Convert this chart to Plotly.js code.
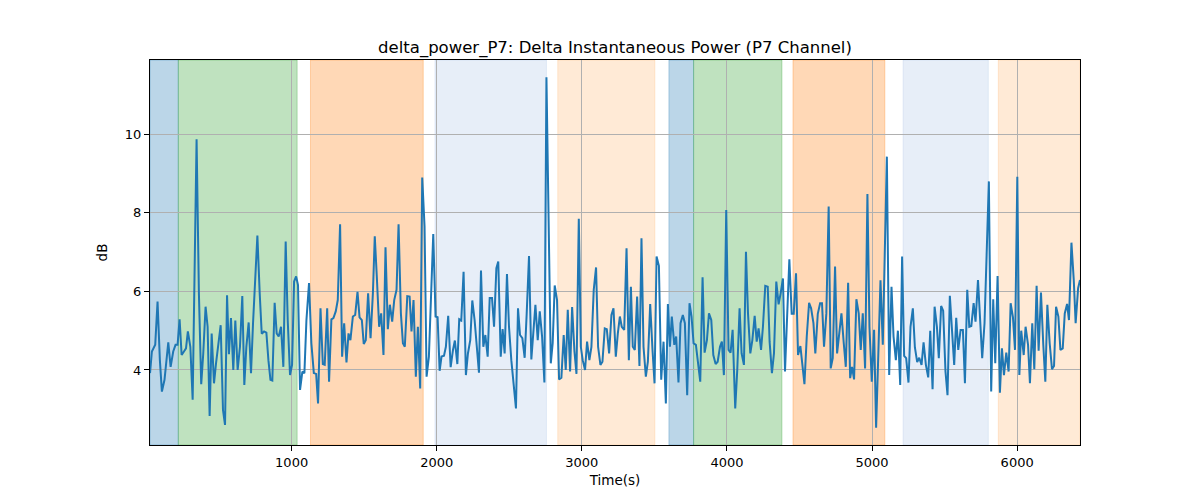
<!DOCTYPE html>
<html>
<head>
<meta charset="utf-8">
<script src="https://cdn.plot.ly/plotly-3.0.1.min.js"></script>
<style>html,body{margin:0;padding:0;background:#fff;}#chart{width:1200px;height:500px;}</style>
</head>
<body>
<div id="chart"></div>
<script>
const timeSec = [24,37,60,76,92,106,124,150,166,184,200,214,228,242,258,272,285,302,318,331,345,361,377,391,407,421,435,449,465,479,495,511,527,541,555,568,582,598,612,628,644,660,674,688,704,720,734,750,764,780,794,810,
826,840,854,867,883,897,911,927,943,959,973,989,1003,1017,1031,1044,1058,1074,1088,1102,1120,1136,1153,1169,1182,1199,1215,1228,1245,1258,1274,1288,1304,1318,1334,1348,1362,1378,1392,1405,1422,1438,1454,1468,1484,1497,1511,1527,1544,1560,1573,1587,1603,1617,1633,
1647,1663,1677,1693,1707,1723,1737,1753,1767,1780,1797,1813,1826,1840,1856,1870,1886,1900,1916,1930,1946,1960,1976,1992,2006,2020,2033,2050,2063,2079,2096,2112,2125,2142,2155,2169,2185,2201,2215,2231,2245,2261,2277,2291,2305,2321,2335,2351,2365,2381,2395,2411,2424,
2441,2454,2468,2484,2498,2514,2530,2546,2560,2574,2590,2606,2620,2636,2652,2666,2680,2696,2710,2726,2742,2756,2772,2786,2799,2813,2829,2843,2859,2875,2889,2903,2919,2933,2949,2963,2979,2993,3006,3022,3036,3052,3066,3082,3098,3112,3128,3142,3158,3172,3188,3204,3218,3234,
3248,3262,3275,3292,3308,3324,3338,3351,3365,3381,3397,3411,3425,3441,3455,3471,3487,3501,3515,3531,3547,3563,3579,3593,3607,3620,3637,3650,3666,3680,3696,3710,3726,3742,3756,3770,3786,3800,3816,3832,3846,3862,3876,3892,3906,3922,3936,3952,3965,3979,3995,4011,4025,4039,
4057,4071,4087,4101,4117,4131,4145,4161,4175,4191,4205,4218,4235,4248,4264,4281,4294,4310,4324,4340,4356,4370,4386,4400,4416,4430,4446,4460,4476,4490,4506,4520,4534,4550,4566,4580,4596,4609,4626,4642,4655,4669,4685,4701,4715,4729,4745,4759,4775,4789,4805,4819,4835,4849,
4862,4876,4892,4908,4922,4936,4952,4968,4982,4998,5014,5028,5044,5058,5074,5102,5118,5134,5148,5164,5178,5194,5207,5221,5235,5251,5265,5281,5295,5311,5325,5341,5355,5371,5387,5401,5417,5431,5447,5460,5476,5490,5506,5520,5536,5550,5566,5580,5594,5610,5626,5640,5656,
5670,5684,5700,5713,5730,5743,5759,5775,5789,5805,5821,5835,5849,5865,5881,5895,5909,5925,5941,5955,5971,5985,6001,6015,6028,6045,6058,6075,6088,6104,6118,6134,6148,6164,6180,6194,6208,6224,6240,6254,6268,6284,6298,6314,6328,6344,6357,6374,6390,6403,6420,6433];

const deltaPowerDb = [3.92,4.47,4.64,5.74,4.25,3.45,3.75,4.70,4.08,4.47,4.64,4.64,5.29,4.38,4.47,4.55,4.98,4.59,3.24,5.95,9.87,5.95,3.64,4.42,5.61,5.10,2.83,4.93,3.66,4.17,4.64,5.14,2.98,2.60,5.90,4.40,5.32,4.00,5.26,4.00,4.59,5.88,3.62,4.59,5.21,3.92,5.19,6.46,7.42,5.95,4.92,4.98,
4.95,4.25,3.75,3.73,5.71,4.93,4.85,5.10,4.08,7.27,5.27,3.87,4.13,6.25,6.38,6.16,3.49,3.96,3.92,5.27,6.21,4.68,3.92,3.90,3.15,5.57,4.15,4.13,5.57,3.70,5.29,5.32,5.49,5.78,7.71,4.34,5.19,4.19,4.93,4.76,5.36,5.40,5.99,5.34,5.27,4.66,4.76,5.95,4.81,5.95,7.40,6.38,5.10,5.44,4.38,
7.12,5.04,5.66,5.23,5.78,6.04,7.71,5.44,4.68,4.59,5.88,5.87,4.98,5.78,3.83,5.10,3.53,8.90,7.65,3.83,4.34,5.95,7.46,5.36,5.34,3.98,4.34,4.36,4.59,5.38,4.07,4.51,4.75,4.15,5.29,5.26,6.50,3.87,4.42,4.76,5.77,5.27,4.42,3.93,6.53,4.59,4.89,4.34,5.83,5.83,5.10,6.59,6.76,
4.34,5.04,4.42,6.44,5.10,4.25,3.66,3.02,5.57,4.89,4.81,4.31,5.44,6.90,4.27,4.89,5.66,4.76,5.49,4.85,3.68,11.45,6.80,4.17,4.68,6.15,5.78,3.76,3.80,4.89,4.00,5.53,3.96,5.60,4.47,3.90,7.85,4.59,4.25,4.00,4.72,4.25,4.59,6.04,6.61,4.59,4.13,4.21,5.06,5.04,4.42,5.40,5.57,4.34,
4.93,5.36,5.10,5.02,7.10,4.25,6.12,4.59,4.51,5.87,4.10,7.35,4.59,3.83,4.21,5.68,4.51,3.66,6.89,6.65,3.75,4.72,3.15,5.68,4.59,5.36,4.64,4.85,3.68,5.19,5.40,5.19,3.36,5.70,5.36,4.68,4.64,4.25,3.70,6.36,4.44,4.76,5.44,5.27,4.38,4.15,4.21,4.59,4.72,3.87,8.07,4.51,4.44,5.02,
3.02,4.00,5.57,4.42,4.13,7.01,5.44,4.42,4.76,5.38,4.72,5.06,4.51,5.10,6.14,6.12,4.72,3.92,4.42,6.25,5.67,5.95,6.33,3.96,5.44,6.82,5.43,5.43,6.46,4.38,4.61,4.08,3.64,4.85,5.71,5.57,5.19,4.42,5.43,5.70,5.70,4.59,5.44,8.16,4.04,4.30,6.63,4.42,5.02,5.44,4.68,4.08,6.22,3.79,
4.08,3.76,5.80,5.44,4.51,5.44,4.04,8.48,5.10,3.70,5.02,2.53,4.51,6.28,4.64,9.43,3.87,6.12,4.85,4.25,5.00,3.62,6.89,4.36,4.30,3.68,5.10,5.57,4.58,4.20,4.31,4.13,4.70,4.13,3.81,5.00,3.51,5.61,5.10,4.30,5.63,5.51,3.96,3.36,5.89,4.93,4.13,5.33,4.51,5.02,5.02,3.66,6.04,
5.10,5.12,5.70,5.23,6.29,5.27,4.30,5.19,6.63,8.80,3.45,5.80,4.17,6.39,3.42,4.55,3.87,4.44,3.96,5.70,5.34,4.51,8.92,3.87,5.00,4.38,5.10,4.64,3.66,5.19,4.02,6.14,4.49,5.97,4.64,3.70,5.66,4.68,4.02,4.10,5.61,5.36,4.51,4.55,5.44,5.68,5.27,7.24,6.29,5.19,6.08,6.29];

// shaded phases (start, end in seconds) and their kind
const spanStart = [24, 219, 1130, 1988, 2834, 3600, 3770, 4455, 5214, 5870];
const spanEnd   = [219, 1038, 1907, 2756, 3503, 3770, 4379, 5088, 5801, 6433];
const spanKind  = ['blue', 'green', 'orange', 'lightblue', 'lightorange', 'blue', 'green', 'orange', 'lightblue', 'lightorange'];

const yTickVals = [4, 6, 8, 10];
const xTickVals = [1000, 2000, 3000, 4000, 5000, 6000];

const kindColor = {
  blue: 'rgba(31,119,180,0.3)',
  green: 'rgba(44,160,44,0.3)',
  orange: 'rgba(255,127,14,0.3)',
  lightblue: 'rgba(174,199,232,0.3)',
  lightorange: 'rgba(255,187,120,0.3)'
};

const shapes = spanStart.map((s, i) => ({
  type: 'rect', xref: 'x', yref: 'paper', x0: s, x1: spanEnd[i], y0: 0, y1: 1,
  fillcolor: kindColor[spanKind[i]], line: {width: 1, color: kindColor[spanKind[i]]}, layer: 'below'
}));

const font = {family: 'DejaVu Sans, sans-serif', color: '#000'};

const data = [{
  x: timeSec, y: deltaPowerDb, type: 'scatter', mode: 'lines',
  line: {color: '#1f77b4', width: 2}, hoverinfo: 'x+y'
}];

const layout = {
  width: 1200, height: 500,
  margin: {l: 150, r: 120, t: 60, b: 55},
  paper_bgcolor: '#fff', plot_bgcolor: 'rgba(0,0,0,0)',
  showlegend: false,
  font: Object.assign({size: 13}, font),
  title: {text: 'delta_power_P7: Delta Instantaneous Power (P7 Channel)', x: 0.5, xref: 'paper', xanchor: 'center',
          y: 1, yref: 'paper', yanchor: 'bottom', pad: {b: 7}, font: Object.assign({size: 16.5}, font)},
  xaxis: {
    range: [24, 6433], tickvals: xTickVals, ticks: 'outside', ticklen: 5, tickwidth: 1, tickcolor: '#000',
    showgrid: true, gridcolor: '#b0b0b0', gridwidth: 1, zeroline: false,
    showline: true, linecolor: '#000', linewidth: 1, mirror: true,
    tickfont: Object.assign({size: 13}, font),
    title: {text: 'Time(s)', font: Object.assign({size: 13.5}, font), standoff: 6}
  },
  yaxis: {
    range: [2.09, 11.89], tickvals: yTickVals, ticks: 'outside', ticklen: 5, tickwidth: 1, tickcolor: '#000',
    showgrid: true, gridcolor: '#b0b0b0', gridwidth: 1, zeroline: false,
    showline: true, linecolor: '#000', linewidth: 1, mirror: true,
    tickfont: Object.assign({size: 13}, font),
    title: {text: 'dB', font: Object.assign({size: 13.5}, font), standoff: 14}
  },
  shapes: shapes
};

Plotly.newPlot('chart', data, layout, {displayModeBar: false, staticPlot: true});
</script>
</body>
</html>
